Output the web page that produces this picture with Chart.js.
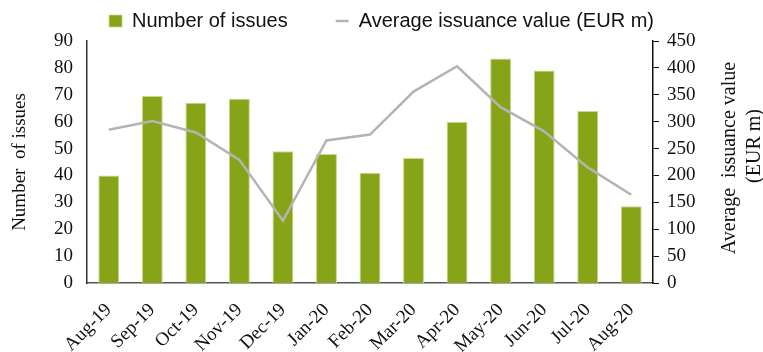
<!DOCTYPE html>
<html>
<head>
<meta charset="utf-8">
<script src="https://cdn.jsdelivr.net/npm/chart.js@4.4.1/dist/chart.umd.min.js"></script>
<style>
  html, body { margin: 0; padding: 0; background: #fff; }
  #wrap { width: 763px; height: 352px; }
</style>
</head>
<body>
<div id="wrap"><canvas id="issues"></canvas></div>
<script>
const months = ["Aug-19", "Sep-19", "Oct-19", "Nov-19", "Dec-19", "Jan-20", "Feb-20",
                "Mar-20", "Apr-20", "May-20", "Jun-20", "Jul-20", "Aug-20"];
const issue_counts = [40, 69.5, 67, 68.5, 49, 48, 41, 46.5, 60, 83.5, 79, 64, 28.5];
const avg_values = [285, 301, 280, 229, 116, 265, 276, 356, 403, 327, 282, 215, 164];
const count_max = 90;
const value_max = 450;

const serif = "'Liberation Serif', 'Times New Roman', serif";
const sans = "'Liberation Sans', Arial, sans-serif";

// legend item spacing; the top layout padding pulls the legend back up
const legend_gap = 48;

// right axis title reads bottom-to-top, so it is drawn by hand
const right_title = {
    id: "right_title",
    afterDraw(chart) {
        const ctx = chart.ctx;
        const yc = (chart.chartArea.top + chart.chartArea.bottom) / 2;
        const x0 = chart.scales.y2.right;
        const lines = [["Average  issuance value", -33, -4], ["(EUR m)", -8, -16]];
        ctx.save();
        ctx.font = "20px " + serif;
        ctx.fillStyle = "#111";
        ctx.textAlign = "center";
        ctx.textBaseline = "middle";
        for (const [txt, dx, dy] of lines) {
            ctx.save();
            ctx.translate(x0 + dx, yc + dy);
            ctx.rotate(-Math.PI / 2);
            ctx.fillText(txt, 0, 0);
            ctx.restore();
        }
        ctx.restore();
    },
};

const ctx = document.getElementById("issues").getContext("2d");
const chart = new Chart(ctx, {
    type: "bar",
    data: {
        labels: months,
        datasets: [
            {
                type: "bar",
                label: "Number of issues",
                data: issue_counts,
                yAxisID: "y",
                backgroundColor: "#87a419",
                borderColor: "#c9d88e",
                borderWidth: { top: 1, left: 1, right: 1, bottom: 0 },
                categoryPercentage: 1,
                barPercentage: 0.48,
                pointStyle: "rect",
                order: 2,
            },
            {
                type: "line",
                label: "Average issuance value (EUR m)",
                data: avg_values,
                yAxisID: "y2",
                borderColor: "#b4b4b4",
                backgroundColor: "#b4b4b4",
                borderWidth: 2.5,
                pointRadius: 0,
                tension: 0,
                pointStyle: "line",
                order: 1,
            },
        ],
    },
    options: {
        responsive: true,
        maintainAspectRatio: false,
        animation: false,
        layout: { padding: { left: 0, right: 0, top: 11 - legend_gap, bottom: 0 } },
        plugins: {
            tooltip: { enabled: false },
            legend: {
                position: "top",
                labels: {
                    usePointStyle: true,
                    pointStyleWidth: 13,
                    boxHeight: 12,
                    padding: legend_gap,
                    color: "#111",
                    font: { family: sans, size: 20 },
                    sort: (a, b) => a.datasetIndex - b.datasetIndex,
                },
            },
        },
        scales: {
            x: {
                grid: { display: false },
                border: { display: true, color: "#555", width: 1.5 },
                ticks: {
                    minRotation: 45,
                    maxRotation: 45,
                    color: "#111",
                    font: { family: serif, size: 19 },
                    padding: 8,
                },
                afterFit(scale) { scale.height = 69; },
            },
            y: {
                position: "left",
                min: 0,
                max: count_max,
                grid: { display: false },
                border: { display: true, color: "#333", width: 1.5 },
                ticks: {
                    stepSize: 10,
                    color: "#111",
                    font: { family: serif, size: 19 },
                    padding: 6,
                },
                title: {
                    display: true,
                    text: "Number  of issues",
                    color: "#111",
                    font: { family: serif, size: 19 },
                    padding: { top: 9, bottom: 0 },
                },
                afterFit(scale) { scale.width = 87; },
            },
            y2: {
                position: "right",
                min: 0,
                max: value_max,
                grid: {
                    drawOnChartArea: false,
                    drawTicks: true,
                    tickLength: 6,
                    color: "#111",
                },
                border: { display: true, color: "#111", width: 1.5 },
                ticks: {
                    stepSize: 50,
                    color: "#111",
                    font: { family: serif, size: 19 },
                    padding: 8,
                },
                afterFit(scale) { scale.width = 110; },
            },
        },
    },
    plugins: [right_title],
});
</script>
</body>
</html>
